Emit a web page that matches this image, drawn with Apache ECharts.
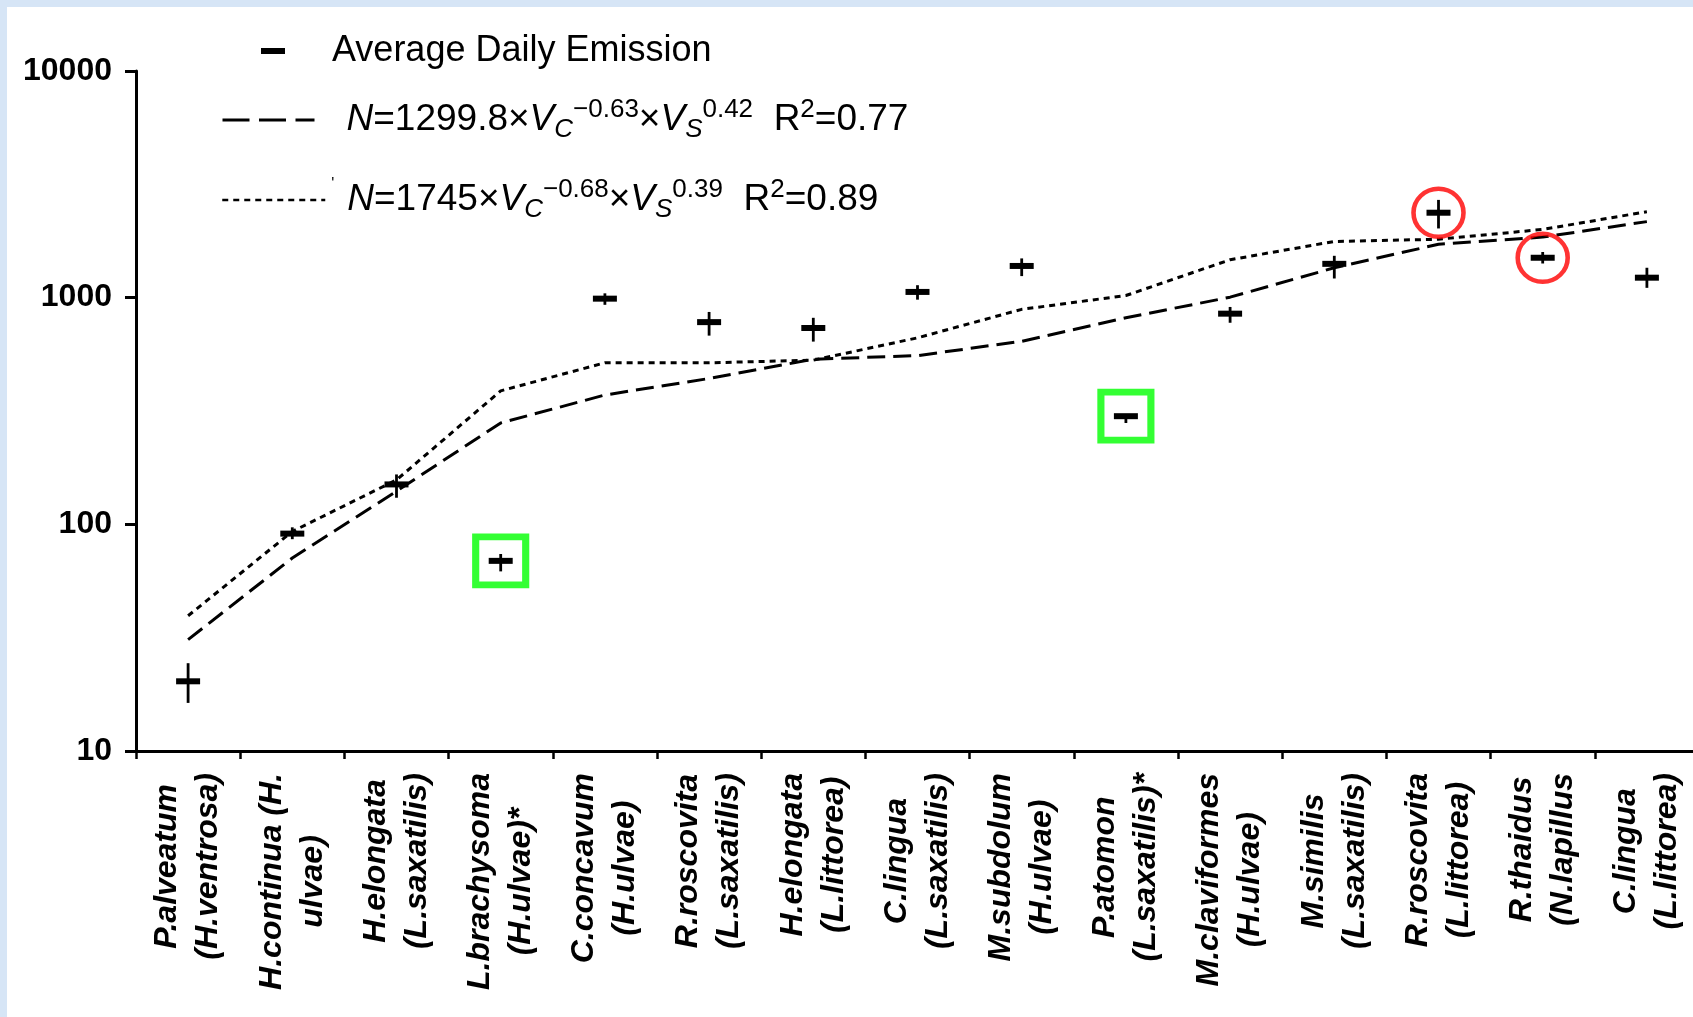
<!DOCTYPE html>
<html>
<head>
<meta charset="utf-8">
<script src="https://cdn.jsdelivr.net/npm/echarts@6/dist/echarts.min.js"></script>
<style>
  html, body { margin: 0; padding: 0; width: 1693px; height: 1017px; overflow: hidden; background: #d6e5f6; }
  #paper { position: absolute; left: 7px; top: 7px; right: 0; bottom: 0; background: #ffffff; }
  #chart { position: absolute; left: 0; top: 0; width: 1693px; height: 1017px; }
</style>
</head>
<body>
<div id="paper"></div>
<div id="chart"></div>
<script>
// Parasite species (host species); '*' marks the two outliers boxed in green
const categories = [
  'P.alveatum\n(H.ventrosa)',
  'H.continua (H.\nulvae)',
  'H.elongata\n(L.saxatilis)',
  'L.brachysoma\n(H.ulvae)*',
  'C.concavum\n(H.ulvae)',
  'R.roscovita\n(L.saxatilis)',
  'H.elongata\n(L.littorea)',
  'C.lingua\n(L.saxatilis)',
  'M.subdolum\n(H.ulvae)',
  'P.atomon\n(L.saxatilis)*',
  'M.claviformes\n(H.ulvae)',
  'M.similis\n(L.saxatilis)',
  'R.roscovita\n(L.littorea)',
  'R.thaidus\n(N.lapillus',
  'C.lingua\n(L.littorea)'
];

// Average daily cercarial emission with its error range
const emission     = [20.3, 91, 150, 69, 990, 780, 735, 1060, 1380, 300, 850, 1410, 2370, 1500, 1225];
const emissionLow  = [16.3, 86, 131, 62, 930, 680, 640, 980, 1245, 280, 775, 1215, 2020, 1415, 1105];
const emissionHigh = [24.4, 97, 166, 74, 1045, 865, 815, 1135, 1490, 302, 910, 1530, 2700, 1590, 1355];

// Model predictions: N = 1299.8·Vc^-0.63·Vs^0.42 and N = 1745·Vc^-0.68·Vs^0.39
const fitA = [31, 71, 140, 280, 372, 440, 535, 555, 642, 815, 1005, 1355, 1720, 1850, 2165];
const fitB = [39.5, 93, 157, 388, 516, 516, 530, 665, 888, 1022, 1470, 1770, 1810, 2000, 2395];

// Highlighted species
const boxedIdx = [3, 9];
const circledIdx = [12, 13];

// Log axis range
const yMin = 10;
const yMax = 10000;

const FONT = "'Liberation Sans', Arial, Helvetica, sans-serif";
const NAME_OBS = 'Average Daily Emission';
const NAME_A = 'N=1299.8 Vc^-0.63 Vs^0.42';
const NAME_B = 'N=1745 Vc^-0.68 Vs^0.39';

const base = { fontFamily: FONT, color: '#000' };
const eqRich = {
  a:   Object.assign({ fontSize: 36, lineHeight: 44 }, base),
  t:   Object.assign({ fontSize: 37, lineHeight: 46 }, base),
  i:   Object.assign({ fontSize: 37, lineHeight: 46, fontStyle: 'italic' }, base),
  sub: Object.assign({ fontSize: 26, lineHeight: 26, fontStyle: 'italic', verticalAlign: 'bottom' }, base),
  sup: Object.assign({ fontSize: 26, lineHeight: 26, verticalAlign: 'top' }, base),
  mk:  Object.assign({ fontSize: 16, lineHeight: 16, verticalAlign: 'top', width: 16 }, base),
  s1:  { width: 42, fontSize: 36, lineHeight: 44 },
  s2:  { width: 27, fontSize: 37, lineHeight: 46 },
  s3:  { width: 1,  fontSize: 37, lineHeight: 46 }
};

const legendText = {};
legendText[NAME_OBS] = '{s1| }{a|Average Daily Emission}';
legendText[NAME_A] = '{s2| }{i|N}{t|=1299.8×}{i|V}{sub|C}{sup|−0.63}{t|×}{i|V}{sub|S}{sup|0.42}{t|  R}{sup|2}{t|=0.77}';
legendText[NAME_B] = '{s3| }{mk|\'}{i|N}{t|=1745×}{i|V}{sub|C}{sup|−0.68}{t|×}{i|V}{sub|S}{sup|0.39}{t|  R}{sup|2}{t|=0.89}';

function legendFor(name, left, top, extra) {
  return Object.assign({
    data: [name],
    left: left,
    top: top,
    padding: 0,
    orient: 'vertical',
    selectedMode: false,
    formatter: n => legendText[n],
    itemStyle: { color: 'rgba(0,0,0,0)', borderWidth: 0 },
    textStyle: { fontFamily: FONT, fontSize: 36, color: '#000', rich: eqRich }
  }, extra);
}

const labelRich = {
  c: { align: 'center', fontFamily: FONT, fontSize: 32, fontWeight: 'bold', fontStyle: 'italic', lineHeight: 41, color: '#000' }
};

const chart = echarts.init(document.getElementById('chart'), null, { renderer: 'canvas' });

chart.setOption({
  animation: false,
  backgroundColor: 'transparent',
  grid: { left: 136, top: 71, width: 1563, bottom: 266, containLabel: false, outerBoundsMode: 'none' },
  legend: [
    legendFor(NAME_OBS, 261, 33, {
      data: [{ name: NAME_OBS, icon: 'rect', itemStyle: { color: '#000' } }],
      itemWidth: 24, itemHeight: 6
    }),
    legendFor(NAME_A, 221, 97, {
      itemWidth: 92, itemHeight: 10,
      lineStyle: { color: '#000', width: 3, type: [27, 9.5] }
    }),
    legendFor(NAME_B, 221, 177, {
      itemWidth: 103, itemHeight: 10,
      lineStyle: { color: '#000', width: 2.5, type: [6, 5] }
    })
  ],
  xAxis: {
    type: 'category',
    data: categories,
    boundaryGap: true,
    axisLine: { show: true, lineStyle: { color: '#000', width: 3 } },
    axisTick: { show: true, alignWithLabel: false, length: 8, lineStyle: { color: '#000', width: 2.5 } },
    splitLine: { show: false },
    axisLabel: {
      interval: 0,
      rotate: 90,
      margin: 22,
      color: '#000',
      fontFamily: FONT,
      fontSize: 32,
      fontWeight: 'bold',
      fontStyle: 'italic',
      lineHeight: 41,
      formatter: v => v.split('\n').map(l => '{c|' + l + '}').join('\n'),
      rich: labelRich
    }
  },
  yAxis: {
    type: 'log',
    logBase: 10,
    min: yMin,
    max: yMax,
    axisLine: { show: true, lineStyle: { color: '#000', width: 3 } },
    axisTick: { show: true, length: 11, lineStyle: { color: '#000', width: 3 } },
    minorTick: { show: false },
    splitLine: { show: false },
    axisLabel: {
      margin: 24,
      color: '#000',
      fontFamily: FONT,
      fontSize: 32,
      fontWeight: 'bold',
      formatter: v => String(Math.round(v))
    }
  },
  series: [
    {
      name: NAME_A,
      type: 'line',
      data: fitA,
      symbol: 'none',
      z: 2,
      itemStyle: { color: '#000' },
      lineStyle: { color: '#000', width: 3, type: [18, 8] }
    },
    {
      name: NAME_B,
      type: 'line',
      data: fitB,
      symbol: 'none',
      z: 2,
      itemStyle: { color: '#000' },
      lineStyle: { color: '#000', width: 3, type: [6, 5] }
    },
    {
      name: NAME_OBS,
      type: 'custom',
      z: 3,
      itemStyle: { color: '#000' },
      encode: { x: 0, y: 1 },
      data: categories.map((c, i) => [i, emission[i], emissionLow[i], emissionHigh[i]]),
      renderItem: function (params, api) {
        const i = api.value(0);
        const c = api.coord([i, api.value(1)]);
        const lo = api.coord([i, api.value(2)]);
        const hi = api.coord([i, api.value(3)]);
        return {
          type: 'group',
          children: [
            { type: 'line', shape: { x1: c[0], y1: hi[1], x2: c[0], y2: lo[1] },
              style: { stroke: '#000', lineWidth: 2.8 } },
            { type: 'rect', shape: { x: c[0] - 12, y: c[1] - 3, width: 24, height: 6 },
              style: { fill: '#000' } }
          ]
        };
      }
    },
    {
      name: 'boxed',
      type: 'scatter',
      z: 4,
      symbol: 'rect',
      symbolSize: [50, 48],
      silent: true,
      itemStyle: { color: 'rgba(0,0,0,0)', borderColor: '#00ff00', borderWidth: 7 },
      data: boxedIdx.map(i => [i, emission[i]])
    },
    {
      name: 'circled',
      type: 'scatter',
      z: 4,
      symbol: 'circle',
      symbolSize: [50, 48],
      silent: true,
      itemStyle: { color: 'rgba(0,0,0,0)', borderColor: '#ff0000', borderWidth: 4.5 },
      data: circledIdx.map(i => [i, emission[i]])
    }
  ]
});
</script>
</body>
</html>
